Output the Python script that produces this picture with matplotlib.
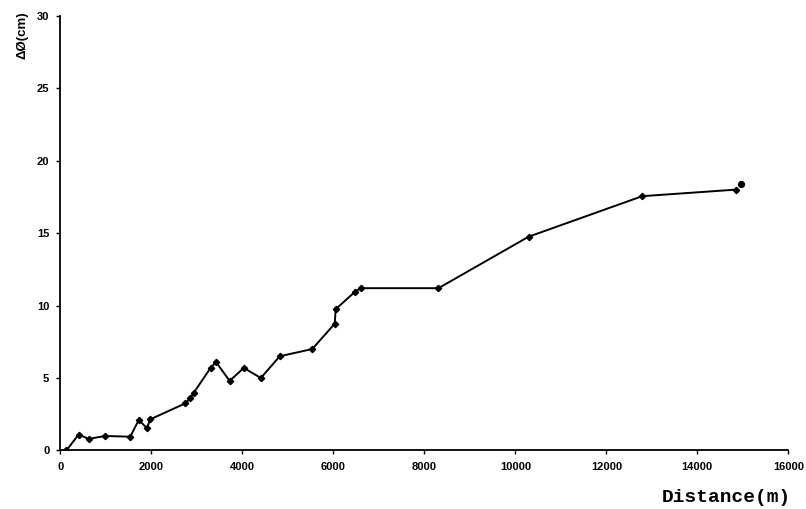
import numpy as np
import matplotlib
matplotlib.use("Agg")
import matplotlib.pyplot as plt

# distance along profile [m] and settlement difference [cm]
distance = [0, 130, 400, 620, 985, 1535, 1720, 1900, 1975, 2745, 2855, 2935,
            3300, 3420, 3720, 4030, 4405, 4820, 5535, 6030, 6050, 6475,
            6600, 8310, 10290, 12790, 14840]
delta = [0.0, 0.0, 1.1, 0.8, 1.0, 0.95, 2.1, 1.55, 2.15, 3.25, 3.6, 4.0,
         5.7, 6.1, 4.8, 5.7, 5.0, 6.5, 7.0, 8.75, 9.75, 10.95,
         11.2, 11.2, 14.75, 17.55, 18.0]
last_x, last_y = [14970], [18.4]   # lone point not joined by the line

xticks = [0, 2000, 4000, 6000, 8000, 10000, 12000, 14000, 16000]
yticks = [0, 5, 10, 15, 20, 25, 30]

fig = plt.figure(figsize=(8.06, 5.09), dpi=100)
ax = fig.add_axes([0.075, 0.115, 0.903, 0.854])

ax.plot(distance[:2], delta[:2], "--", color="black", lw=0.8)
ax.plot(distance[1:], delta[1:], "-D", color="black", lw=1.4, ms=3.2)
ax.plot(last_x, last_y, "o", color="black", ms=4.2)

ax.set_xlim(0, 16000)
ax.set_ylim(0, 30)
ax.set_xticks(xticks)
ax.set_yticks(yticks)
tick_font = dict(fontsize=8, fontweight="bold", family="Liberation Sans")
ax.set_xticklabels([str(t) for t in xticks], **tick_font)
ax.set_yticklabels([str(t) for t in yticks], **tick_font)
ax.tick_params(length=3, width=1, pad=5)

for s in ("top", "right"):
    ax.spines[s].set_visible(False)
for s in ("left", "bottom"):
    ax.spines[s].set_linewidth(1.3)

fig.text(0.02, 0.978, "ΔØ(cm)", rotation=90, ha="left", va="top",
         fontsize=9.5, fontweight="bold", family="Liberation Sans")
fig.text(0.981, 0.022, "Distance(m)", ha="right", va="center",
         fontsize=14, fontweight="bold", family="Liberation Mono")

fig.savefig("out.png", dpi=100)
